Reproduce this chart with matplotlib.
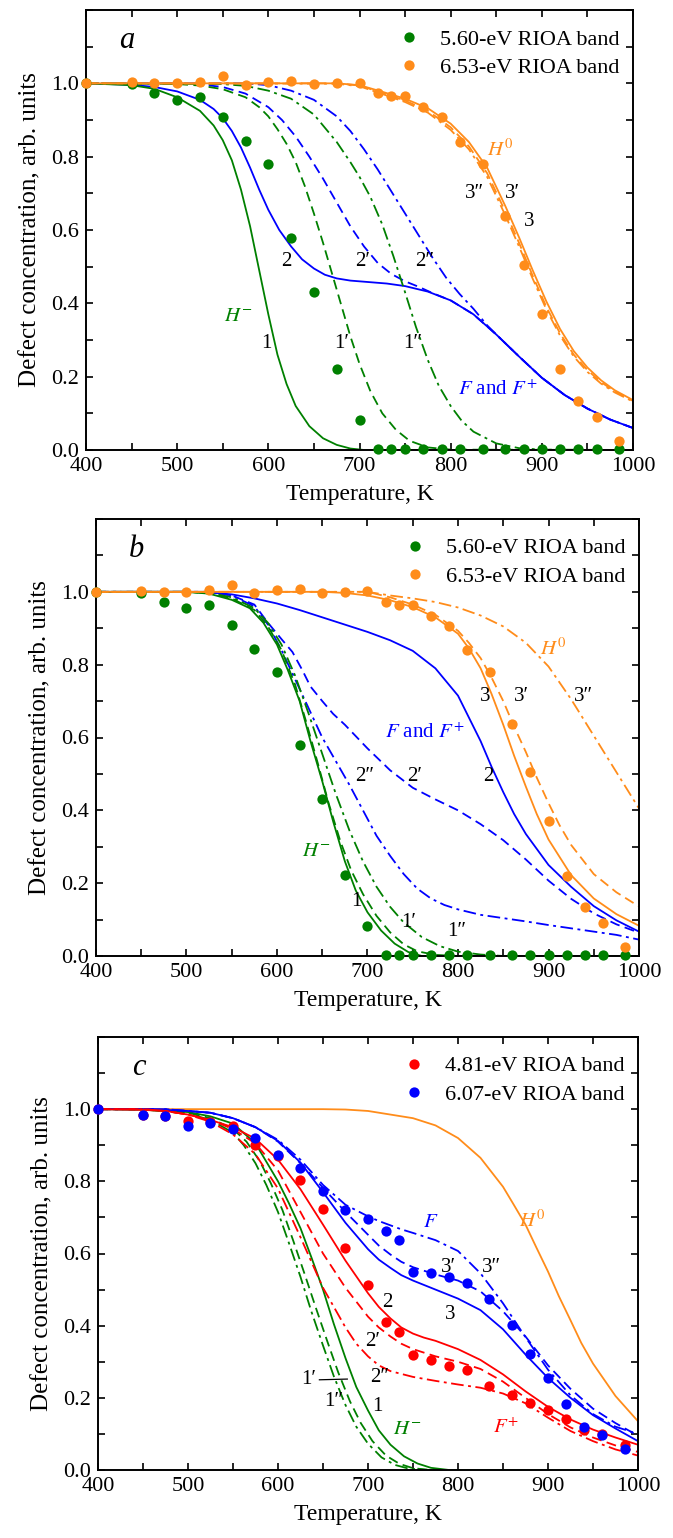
import matplotlib
matplotlib.use("Agg")
import matplotlib.pyplot as plt
from matplotlib.ticker import MultipleLocator

plt.rcParams["font.family"] = ["Liberation Serif", "DejaVu Serif"]
plt.rcParams["mathtext.fontset"] = "stix"

GREEN = "#008000"
ORANGE = "#ff8c1a"
BLUE = "#0000ff"
RED = "#ff0000"

# measured RIOA band decay (panels a and b share the same data)
T_EXP = [400, 450, 475, 500, 525, 550, 575, 600, 625, 650, 675, 700, 720, 735,
         750, 770, 790, 810, 835, 860, 880, 900, 920, 940, 960, 985]
BAND_560 = [1.0, 0.998, 0.973, 0.955, 0.964, 0.909, 0.844, 0.780, 0.579, 0.431,
            0.222, 0.082, 0.003, 0.003, 0.003, 0.003, 0.003, 0.003, 0.003, 0.003,
            0.003, 0.003, 0.003, 0.003, 0.003, 0.003]
BAND_653 = [1.0, 1.003, 1.0, 1.0, 1.004, 1.02, 0.996, 1.004, 1.007, 0.998, 1.0,
            1.002, 0.973, 0.965, 0.965, 0.935, 0.907, 0.840, 0.780, 0.638, 0.504,
            0.372, 0.220, 0.134, 0.090, 0.025]
# panel c data
BAND_481 = [1.0, 0.984, 0.980, 0.966, 0.965, 0.954, 0.901, 0.871, 0.803, 0.724,
            0.615, 0.514, 0.410, 0.382, 0.319, 0.306, 0.288, 0.276, 0.232, 0.208,
            0.185, 0.167, 0.140, 0.111, 0.099, 0.070]
BAND_607 = [1.0, 0.984, 0.982, 0.954, 0.963, 0.945, 0.920, 0.874, 0.837, 0.772,
            0.721, 0.695, 0.661, 0.637, 0.549, 0.546, 0.534, 0.519, 0.474, 0.403,
            0.322, 0.256, 0.182, 0.118, 0.098, 0.057]

# ---- panel a model curves (temperature, concentration) ----
A_1_T = [400, 450, 475, 500, 525, 540, 550, 560, 570, 580, 590, 600, 610, 620,
         630, 645, 660, 675, 690, 705, 1000]
A_1 = [1.0, 0.995, 0.985, 0.962, 0.925, 0.885, 0.845, 0.79, 0.71, 0.61, 0.49,
       0.37, 0.26, 0.18, 0.12, 0.065, 0.032, 0.014, 0.004, 0.0, 0.0]
A_1P_T = [400, 500, 525, 550, 575, 590, 600, 610, 620, 630, 640, 650, 660, 670,
          680, 690, 700, 712, 725, 740, 755, 775, 800, 1000]
A_1P = [1.0, 0.998, 0.994, 0.984, 0.962, 0.935, 0.91, 0.875, 0.835, 0.785, 0.72,
        0.645, 0.565, 0.48, 0.395, 0.31, 0.235, 0.16, 0.10, 0.055, 0.025, 0.007,
        0.001, 0.0]
A_1PP_T = [400, 550, 575, 600, 625, 650, 675, 690, 700, 712, 725, 737, 750, 762,
           775, 787, 800, 812, 825, 850, 875, 900, 1000]
A_1PP = [1.0, 0.998, 0.993, 0.98, 0.958, 0.915, 0.84, 0.785, 0.745, 0.69, 0.615,
         0.53, 0.43, 0.335, 0.245, 0.175, 0.12, 0.08, 0.05, 0.018, 0.005, 0.001,
         0.0]
A_2_T = [400, 450, 475, 500, 525, 540, 550, 560, 570, 580, 590, 600, 612, 625,
         637, 650, 662, 675, 690, 710, 730, 750, 775, 800, 825, 850, 875, 900,
         925, 950, 975, 1000]
A_2 = [1.0, 0.996, 0.99, 0.978, 0.955, 0.93, 0.905, 0.87, 0.825, 0.77, 0.71,
       0.655, 0.60, 0.555, 0.52, 0.495, 0.478, 0.468, 0.462, 0.458, 0.454, 0.447,
       0.432, 0.408, 0.37, 0.315, 0.255, 0.197, 0.15, 0.113, 0.083, 0.06]
A_2P_T = [400, 500, 525, 550, 575, 600, 615, 630, 645, 660, 675, 690, 705, 720,
          735, 750, 765, 780, 800, 825, 850, 875, 900, 925, 950, 975, 1000]
A_2P = [1.0, 1.0, 0.997, 0.99, 0.972, 0.935, 0.90, 0.855, 0.80, 0.74, 0.675,
        0.61, 0.555, 0.51, 0.48, 0.46, 0.445, 0.428, 0.408, 0.37, 0.315, 0.255,
        0.197, 0.15, 0.113, 0.083, 0.06]
A_2PP_T = [400, 575, 600, 625, 650, 675, 690, 705, 720, 735, 750, 765, 780, 795,
           810, 825, 840, 850, 875, 900, 925, 950, 975, 1000]
A_2PP = [1.0, 1.0, 0.995, 0.98, 0.955, 0.91, 0.87, 0.82, 0.765, 0.705, 0.645,
         0.585, 0.525, 0.47, 0.425, 0.385, 0.34, 0.315, 0.255, 0.197, 0.15,
         0.113, 0.083, 0.06]
A_3_T = [400, 675, 700, 725, 750, 775, 800, 820, 840, 860, 875, 890, 905, 920,
         935, 950, 965, 980, 1000]
A_3 = [1.0, 1.0, 0.995, 0.977, 0.958, 0.932, 0.89, 0.84, 0.77, 0.665, 0.58,
       0.49, 0.405, 0.33, 0.27, 0.225, 0.19, 0.163, 0.136]
A_3P = [1.0, 1.0, 0.994, 0.974, 0.953, 0.925, 0.88, 0.828, 0.755, 0.65, 0.565,
        0.475, 0.39, 0.318, 0.26, 0.218, 0.185, 0.16, 0.134]
A_3PP = [1.0, 0.999, 0.992, 0.971, 0.949, 0.92, 0.873, 0.82, 0.745, 0.64, 0.555,
         0.467, 0.383, 0.312, 0.255, 0.213, 0.181, 0.157, 0.132]

# ---- panel b model curves ----
B_1_T = [400, 500, 525, 550, 570, 585, 600, 612, 625, 637, 650, 662, 675, 687,
         700, 715, 730, 745, 760, 1000]
B_1 = [1.0, 1.0, 0.995, 0.978, 0.955, 0.915, 0.855, 0.785, 0.70, 0.59, 0.48,
       0.37, 0.26, 0.18, 0.12, 0.07, 0.034, 0.011, 0.0, 0.0]
B_1P_T = [400, 500, 525, 550, 575, 590, 605, 620, 632, 645, 657, 670, 682, 695,
          710, 725, 740, 755, 775, 800, 1000]
B_1P = [1.0, 1.0, 0.996, 0.982, 0.95, 0.905, 0.84, 0.745, 0.645, 0.53, 0.42,
        0.315, 0.235, 0.17, 0.11, 0.065, 0.032, 0.013, 0.003, 0.0, 0.0]
B_1PP_T = [400, 500, 525, 550, 575, 590, 605, 620, 635, 650, 665, 680, 695, 710,
           725, 740, 760, 780, 800, 825, 850, 1000]
B_1PP = [1.0, 1.0, 0.997, 0.985, 0.955, 0.915, 0.855, 0.77, 0.665, 0.555, 0.445,
         0.345, 0.26, 0.19, 0.135, 0.092, 0.052, 0.027, 0.012, 0.004, 0.0, 0.0]
B_2_T = [400, 500, 525, 550, 575, 600, 625, 650, 675, 700, 725, 750, 775, 800,
         812, 825, 837, 850, 862, 875, 900, 925, 950, 975, 1000]
B_2 = [1.0, 1.0, 0.998, 0.993, 0.982, 0.968, 0.95, 0.93, 0.91, 0.89, 0.867,
       0.838, 0.79, 0.715, 0.655, 0.59, 0.52, 0.45, 0.39, 0.335, 0.25, 0.19,
       0.137, 0.098, 0.067]
B_2P_T = [400, 525, 550, 575, 590, 605, 617, 628, 637, 650, 662, 675, 700, 725,
          750, 775, 800, 825, 850, 875, 900, 925, 950, 975, 1000]
B_2P = [1.0, 1.0, 0.99, 0.965, 0.915, 0.87, 0.835, 0.785, 0.74, 0.70, 0.665,
        0.635, 0.57, 0.51, 0.462, 0.43, 0.40, 0.362, 0.318, 0.265, 0.207, 0.157,
        0.117, 0.087, 0.064]
B_2PP_T = [400, 525, 550, 575, 590, 605, 620, 635, 650, 665, 680, 695, 710, 725,
           740, 755, 770, 785, 800, 825, 850, 875, 900, 925, 950, 975, 1000]
B_2PP = [1.0, 1.0, 0.99, 0.96, 0.91, 0.84, 0.76, 0.68, 0.60, 0.535, 0.47, 0.40,
         0.33, 0.275, 0.225, 0.185, 0.158, 0.14, 0.128, 0.113, 0.104, 0.095,
         0.085, 0.076, 0.067, 0.058, 0.045]
B_3_T = [400, 650, 675, 700, 725, 750, 775, 800, 812, 825, 837, 850, 862, 875,
         887, 900, 925, 950, 975, 1000]
B_3 = [1.0, 1.0, 0.997, 0.99, 0.977, 0.958, 0.93, 0.885, 0.845, 0.79, 0.72,
       0.635, 0.55, 0.465, 0.39, 0.32, 0.222, 0.158, 0.115, 0.083]
B_3P_T = [400, 700, 725, 750, 775, 800, 812, 825, 837, 850, 862, 875, 887, 900,
          912, 925, 950, 975, 1000]
B_3P = [1.0, 1.0, 0.985, 0.965, 0.937, 0.893, 0.86, 0.818, 0.765, 0.70, 0.63,
        0.56, 0.49, 0.42, 0.36, 0.305, 0.225, 0.175, 0.136]
B_3PP_T = [400, 700, 725, 750, 775, 800, 825, 850, 875, 900, 925, 950, 975, 1000]
B_3PP = [1.0, 1.0, 0.99, 0.982, 0.972, 0.957, 0.935, 0.905, 0.86, 0.795, 0.705,
         0.605, 0.505, 0.405]

# ---- panel c model curves ----
C_H0_T = [400, 650, 675, 700, 725, 750, 775, 800, 825, 850, 862, 875, 887, 900,
          912, 925, 937, 950, 975, 1000]
C_H0 = [1.0, 1.0, 0.999, 0.995, 0.985, 0.975, 0.955, 0.92, 0.865, 0.785, 0.735,
        0.68, 0.617, 0.55, 0.482, 0.415, 0.352, 0.295, 0.205, 0.135]
C_1_T = [400, 450, 500, 525, 550, 575, 600, 612, 625, 637, 650, 662, 675, 687,
         700, 712, 725, 740, 755, 770, 790, 1000]
C_1 = [1.0, 0.999, 0.992, 0.98, 0.96, 0.905, 0.80, 0.74, 0.67, 0.59, 0.50,
       0.405, 0.31, 0.23, 0.165, 0.11, 0.07, 0.038, 0.018, 0.006, 0.0, 0.0]
C_1P_T = [400, 450, 500, 525, 550, 565, 580, 592, 605, 617, 630, 642, 655, 667,
          680, 692, 705, 720, 735, 750, 770, 1000]
C_1P = [1.0, 0.999, 0.99, 0.975, 0.945, 0.91, 0.855, 0.795, 0.72, 0.635, 0.54,
        0.45, 0.355, 0.27, 0.19, 0.13, 0.08, 0.04, 0.017, 0.005, 0.0, 0.0]
C_1PP_T = [400, 450, 500, 525, 550, 562, 575, 587, 600, 612, 625, 637, 650, 662,
           675, 687, 700, 715, 730, 745, 765, 1000]
C_1PP = [1.0, 0.999, 0.988, 0.97, 0.935, 0.90, 0.85, 0.79, 0.715, 0.63, 0.535,
         0.44, 0.345, 0.26, 0.18, 0.12, 0.073, 0.035, 0.014, 0.004, 0.0, 0.0]
C_2_T = [400, 450, 475, 500, 525, 550, 575, 600, 625, 650, 675, 700, 712, 725,
         737, 750, 762, 775, 800, 825, 850, 875, 900, 925, 950, 975, 1000]
C_2 = [1.0, 0.998, 0.995, 0.985, 0.97, 0.95, 0.918, 0.86, 0.778, 0.68, 0.58,
       0.49, 0.452, 0.42, 0.395, 0.378, 0.367, 0.358, 0.335, 0.305, 0.265, 0.218,
       0.175, 0.14, 0.112, 0.09, 0.07]
C_2P_T = [400, 450, 475, 500, 525, 550, 575, 600, 625, 650, 675, 700, 712, 725,
          737, 750, 775, 800, 825, 850, 875, 900, 925, 950, 975, 1000]
C_2P = [1.0, 1.0, 0.995, 0.985, 0.97, 0.945, 0.905, 0.83, 0.715, 0.60, 0.505,
        0.425, 0.395, 0.37, 0.35, 0.335, 0.315, 0.30, 0.28, 0.245, 0.20, 0.155,
        0.118, 0.09, 0.068, 0.05]
C_2PP_T = [400, 450, 475, 500, 525, 550, 575, 600, 625, 650, 675, 687, 700, 712,
           725, 750, 775, 800, 825, 850, 875, 900, 925, 950, 975, 1000]
C_2PP = [1.0, 1.0, 0.995, 0.985, 0.965, 0.93, 0.875, 0.78, 0.645, 0.505, 0.395,
         0.35, 0.315, 0.29, 0.274, 0.258, 0.247, 0.237, 0.228, 0.212, 0.185,
         0.145, 0.108, 0.08, 0.057, 0.04]
C_3_T = [400, 450, 475, 500, 525, 550, 575, 600, 625, 650, 675, 700, 712, 725,
         737, 750, 775, 800, 825, 850, 875, 900, 925, 950, 975, 1000]
C_3 = [1.0, 1.0, 0.998, 0.995, 0.99, 0.975, 0.95, 0.912, 0.852, 0.77, 0.685,
       0.612, 0.583, 0.56, 0.54, 0.525, 0.50, 0.475, 0.443, 0.39, 0.32, 0.255,
       0.20, 0.152, 0.115, 0.08]
C_3P = [1.0, 1.0, 1.0, 0.995, 0.99, 0.975, 0.95, 0.91, 0.85, 0.782, 0.715,
        0.652, 0.622, 0.597, 0.577, 0.562, 0.542, 0.525, 0.495, 0.44, 0.37, 0.29,
        0.225, 0.17, 0.13, 0.095]
C_3PP = [1.0, 1.0, 1.0, 0.995, 0.99, 0.975, 0.95, 0.915, 0.86, 0.79, 0.735,
         0.703, 0.69, 0.678, 0.667, 0.657, 0.637, 0.607, 0.545, 0.462, 0.368,
         0.278, 0.207, 0.155, 0.12, 0.10]

DASH = (0, (5.5, 3.0))
DASHDOT = (0, (7.0, 2.5, 1.6, 2.5))

PANELS = [
    {
        "rect": (86 / 673, 1 - 450 / 1538, 547 / 673, 440 / 1538),
        "letter": "a",
        "curves": [
            (A_2P_T, A_2P, BLUE, DASH), (A_2PP_T, A_2PP, BLUE, DASHDOT),
            (A_2_T, A_2, BLUE, "-"),
            (A_1P_T, A_1P, GREEN, DASH), (A_1PP_T, A_1PP, GREEN, DASHDOT),
            (A_1_T, A_1, GREEN, "-"),
            (A_3_T, A_3P, ORANGE, DASH), (A_3_T, A_3PP, ORANGE, DASHDOT),
            (A_3_T, A_3, ORANGE, "-"),
        ],
        "points": [(BAND_560, GREEN, "5.60-eV RIOA band"),
                   (BAND_653, ORANGE, "6.53-eV RIOA band")],
        "labels": [
            (854, 0.817, r"$H^0$", ORANGE), (826, 0.70, "3\u2033", "k"),
            (868, 0.70, "3\u2032", "k"), (886, 0.622, "3", "k"),
            (620, 0.513, "2", "k"), (703, 0.513, "2\u2032", "k"),
            (772, 0.513, "2\u2033", "k"), (567, 0.363, r"$H^{-}$", GREEN),
            (598, 0.29, "1", "k"), (680, 0.29, "1\u2032", "k"),
            (758, 0.29, "1\u2033", "k"),
            (852, 0.163, r"$F$ and $F^{+}$", BLUE),
        ],
    },
    {
        "rect": (96 / 673, 1 - 956 / 1538, 543 / 673, 437 / 1538),
        "letter": "b",
        "curves": [
            (B_2P_T, B_2P, BLUE, DASH), (B_2PP_T, B_2PP, BLUE, DASHDOT),
            (B_2_T, B_2, BLUE, "-"),
            (B_1P_T, B_1P, GREEN, DASH), (B_1PP_T, B_1PP, GREEN, DASHDOT),
            (B_1_T, B_1, GREEN, "-"),
            (B_3P_T, B_3P, ORANGE, DASH), (B_3PP_T, B_3PP, ORANGE, DASHDOT),
            (B_3_T, B_3, ORANGE, "-"),
        ],
        "points": [(BAND_560, GREEN, "5.60-eV RIOA band"),
                   (BAND_653, ORANGE, "6.53-eV RIOA band")],
        "labels": [
            (905, 0.843, r"$H^0$", ORANGE), (830, 0.712, "3", "k"),
            (870, 0.712, "3\u2032", "k"), (939, 0.712, "3\u2033", "k"),
            (763, 0.612, r"$F$ and $F^{+}$", BLUE),
            (697, 0.494, "2\u2033", "k"), (752, 0.494, "2\u2032", "k"),
            (834, 0.494, "2", "k"), (643, 0.286, r"$H^{-}$", GREEN),
            (688, 0.15, "1", "k"), (745, 0.091, "1\u2032", "k"),
            (799, 0.068, "1\u2033", "k"),
        ],
    },
    {
        "rect": (98 / 673, 1 - 1470 / 1538, 540 / 673, 433 / 1538),
        "letter": "c",
        "curves": [
            (C_H0_T, C_H0, ORANGE, "-"),
            (C_1P_T, C_1P, GREEN, DASH), (C_1PP_T, C_1PP, GREEN, DASHDOT),
            (C_1_T, C_1, GREEN, "-"),
            (C_3_T, C_3P, BLUE, DASH), (C_3_T, C_3PP, BLUE, DASHDOT),
            (C_3_T, C_3, BLUE, "-"),
            (C_2P_T, C_2P, RED, DASH), (C_2PP_T, C_2PP, RED, DASHDOT),
            (C_2_T, C_2, RED, "-"),
        ],
        "points": [(BAND_481, RED, "4.81-eV RIOA band"),
                   (BAND_607, BLUE, "6.07-eV RIOA band")],
        "labels": [
            (882, 0.689, r"$H^0$", ORANGE), (770, 0.685, r"$F$", BLUE),
            (789, 0.56, "3\u2032", "k"), (837, 0.56, "3\u2033", "k"),
            (722, 0.463, "2", "k"), (791, 0.431, "3", "k"),
            (705, 0.357, "2\u2032", "k"), (634, 0.251, "1\u2032", "k"),
            (713, 0.255, "2\u2033", "k"), (662, 0.191, "1\u2033", "k"),
            (710, 0.177, "1", "k"), (744, 0.113, r"$H^{-}$", GREEN),
            (853, 0.117, r"$F^{+}$", RED),
        ],
    },
]

fig = plt.figure(figsize=(6.73, 15.38), dpi=100)

for panel in PANELS:
    ax = fig.add_axes(panel["rect"])
    for temps, values, color, style in panel["curves"]:
        ax.plot(temps, values, color=color, linestyle=style, linewidth=1.3,
                zorder=2, solid_joinstyle="round", dash_joinstyle="round")
    for values, color, label in panel["points"]:
        ax.plot(T_EXP, values, linestyle="none", marker="o", markersize=7.4,
                color=color, markeredgewidth=0, label=label, zorder=4, clip_on=False)
    for x, y, text, color in panel["labels"]:
        ax.text(x, y, text, color=color, fontsize=15, ha="center", va="center", zorder=5)
    if panel["letter"] == "c":
        # leader from the 1' label to its curve
        ax.plot([646, 677], [0.25, 0.252], color="k", linewidth=0.9, zorder=5)
    ax.text(0.075, 0.93, panel["letter"], transform=ax.transAxes, fontsize=22,
            style="italic", ha="center", va="center")

    ax.set_xlim(400, 1000)
    ax.set_ylim(0.0, 1.2)
    ax.set_yticks([0.0, 0.2, 0.4, 0.6, 0.8, 1.0])
    ax.xaxis.set_major_locator(MultipleLocator(100))
    ax.xaxis.set_minor_locator(MultipleLocator(50))
    ax.yaxis.set_minor_locator(MultipleLocator(0.1))
    ax.yaxis.set_major_formatter(plt.FormatStrFormatter("%.1f"))
    ax.tick_params(which="both", direction="in", top=True, right=True,
                   labelsize=16, width=1.2, pad=5)
    ax.tick_params(which="major", length=5)
    ax.tick_params(which="minor", length=5)
    for spine in ax.spines.values():
        spine.set_linewidth(1.4)

    ax.set_xlabel("Temperature, K", fontsize=17, labelpad=6)
    ax.set_ylabel("Defect concentration, arb. units", fontsize=18, labelpad=7)
    ax.legend(loc="upper right", bbox_to_anchor=(0.987, 0.972), frameon=False,
              fontsize=16, handletextpad=0.8, labelspacing=0.35, borderpad=0.3,
              borderaxespad=0.0, handlelength=1.2)

fig.savefig("out.png", dpi=100)
